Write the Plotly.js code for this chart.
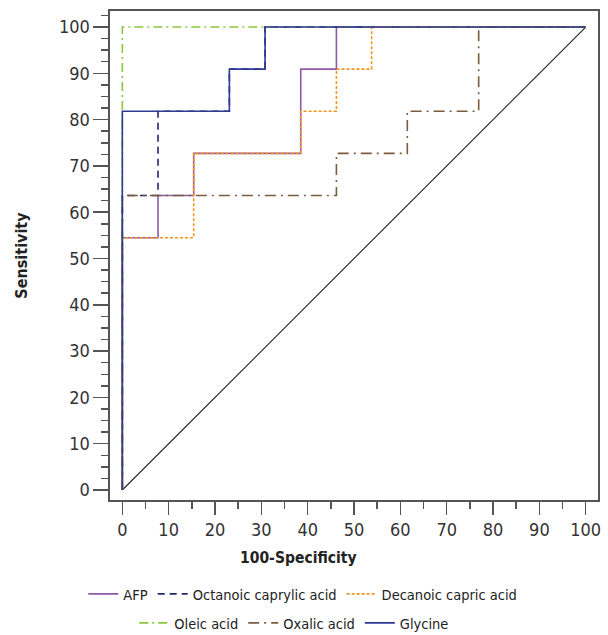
<!DOCTYPE html>
<html>
<head>
<meta charset="utf-8">
<script src="https://cdn.plot.ly/plotly-3.0.1.min.js"></script>
<style>html,body{margin:0;padding:0;background:#fff;}#chart{width:608px;height:635px;}</style>
</head>
<body>
<div id="chart"></div>
<script>
// 100-Specificity (x) and Sensitivity (y) step points for each ROC curve
const afpX = [0, 0, 7.7, 7.7, 15.4, 15.4, 38.5, 38.5, 46.2, 46.2, 100];
const afpY = [0, 54.5, 54.5, 63.6, 63.6, 72.7, 72.7, 90.9, 90.9, 100, 100];

const octX = [0, 0, 7.7, 7.7, 23.1, 23.1, 30.8, 30.8, 100];
const octY = [0, 63.6, 63.6, 81.8, 81.8, 90.9, 90.9, 100, 100];

const decX = [0, 0, 15.4, 15.4, 38.5, 38.5, 46.2, 46.2, 53.8, 53.8, 100];
const decY = [0, 54.5, 54.5, 72.7, 72.7, 81.8, 81.8, 90.9, 90.9, 100, 100];

const oleX = [0, 0, 100];
const oleY = [0, 100, 100];

const oxaX = [0, 0, 46.2, 46.2, 61.5, 61.5, 76.9, 76.9, 100];
const oxaY = [0, 63.6, 63.6, 72.7, 72.7, 81.8, 81.8, 100, 100];

const glyX = [0, 0, 23.1, 23.1, 30.8, 30.8, 100];
const glyY = [0, 81.8, 81.8, 90.9, 90.9, 100, 100];

const refX = [0, 100];
const refY = [0, 100];

const xTicks = [0, 10, 20, 30, 40, 50, 60, 70, 80, 90, 100];
const yTicks = [0, 10, 20, 30, 40, 50, 60, 70, 80, 90, 100];

const FONT = "'DejaVu Sans Condensed', 'Liberation Sans', sans-serif";

function tr(name, x, y, color, dash, width, legend) {
  return {x: x, y: y, name: name, type: 'scatter', mode: 'lines',
          line: {color: color, dash: dash, width: width, shape: 'linear'},
          legend: legend, hoverinfo: 'skip'};
}

const data = [
  Object.assign(tr('Reference', refX, refY, '#222222', 'solid', 1.1, 'legend'), {showlegend: false}),
  tr('AFP', afpX, afpY, '#8e5aa8', 'solid', 1.6, 'legend'),
  tr('Octanoic caprylic acid', octX, octY, '#23276b', '7px,5px', 1.6, 'legend'),
  tr('Decanoic capric acid', decX, decY, '#f7941d', '3px,2px', 1.6, 'legend'),
  tr('Oleic acid', oleX, oleY, '#8cc63f', '9px,4px,2px,4px', 1.6, 'legend2'),
  tr('Oxalic acid', oxaX, oxaY, '#7a5c3e', '11px,5px,2px,5px', 1.6, 'legend2'),
  tr('Glycine', glyX, glyY, '#2e3a93', 'solid', 1.6, 'legend2')
];

const axisCommon = {
  showgrid: false, zeroline: false,
  showline: true, mirror: true, linecolor: '#555555', linewidth: 1.6,
  ticks: 'outside', tickcolor: '#555555', tickwidth: 1.5,
  tickfont: {family: FONT, size: 18, color: '#333333'},
  fixedrange: true
};

const layout = {
  width: 608, height: 635,
  margin: {l: 110, r: 10, t: 11, b: 135},
  paper_bgcolor: '#ffffff', plot_bgcolor: '#ffffff',
  font: {family: FONT, color: '#333333'},
  xaxis: Object.assign({}, axisCommon, {
    range: [-2.66, 102.65], tickmode: 'array', tickvals: xTicks, ticktext: xTicks.map(String),
    ticklen: 13,
    minor: {ticks: 'outside', dtick: 5, tick0: 0, ticklen: 7, tickcolor: '#555555', tickwidth: 1.5, showgrid: false}
  }),
  yaxis: Object.assign({}, axisCommon, {
    range: [-2.16, 103.46], tickmode: 'array', tickvals: yTicks, ticktext: yTicks.map(String),
    ticklen: 15,
    title: {text: '<b>Sensitivity</b>', font: {family: FONT, size: 16, color: '#222222'}, standoff: 27},
    minor: {ticks: 'outside', dtick: 2.5, tick0: 0, ticklen: 7, tickcolor: '#555555', tickwidth: 1.5, showgrid: false}
  }),
  annotations: [{
    text: '<b>100-Specificity</b>', xref: 'paper', yref: 'paper', x: 0.387, y: -0.1186,
    xanchor: 'center', yanchor: 'middle', showarrow: false,
    font: {family: FONT, size: 15.5, color: '#222222'}
  }],
  legend: {
    orientation: 'h', xref: 'container', yref: 'container', x: 0.498, y: 0.0646,
    xanchor: 'center', yanchor: 'middle', font: {family: FONT, size: 14.5, color: '#222222'},
    bgcolor: 'rgba(0,0,0,0)', itemwidth: 30, traceorder: 'normal'
  },
  legend2: {
    orientation: 'h', xref: 'container', yref: 'container', x: 0.484, y: 0.0189,
    xanchor: 'center', yanchor: 'middle', font: {family: FONT, size: 14.5, color: '#222222'},
    bgcolor: 'rgba(0,0,0,0)', itemwidth: 30, traceorder: 'normal'
  },
  showlegend: true
};

Plotly.newPlot('chart', data, layout, {displayModeBar: false, staticPlot: true});
</script>
</body>
</html>
